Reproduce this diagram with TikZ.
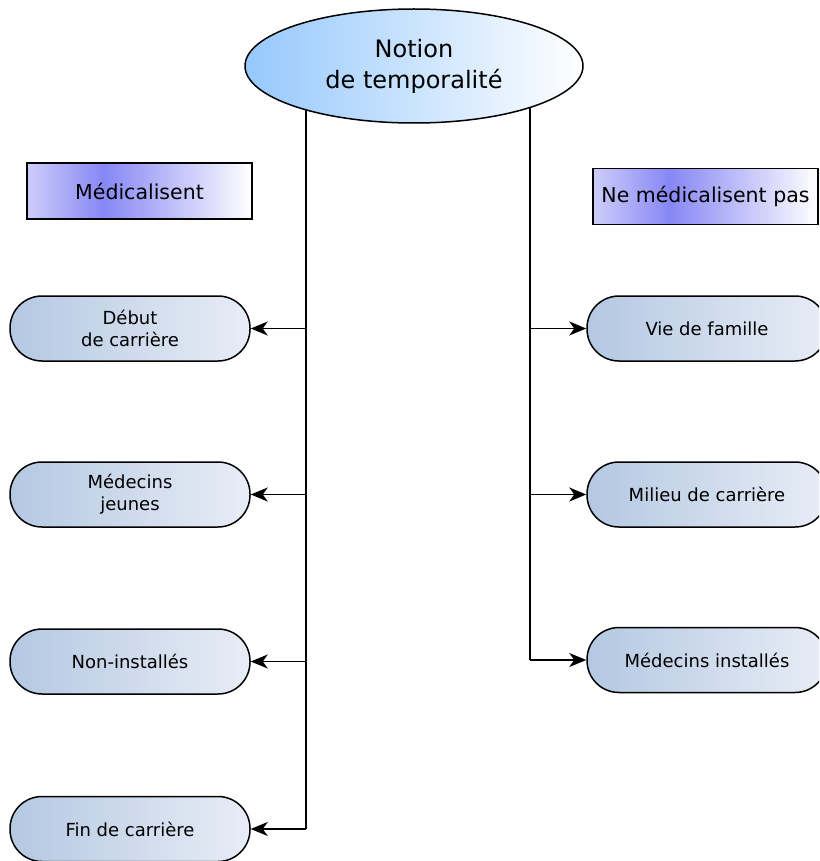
\documentclass[tikz,border=0pt]{standalone}
\usepackage{fontspec}
\setmainfont{DejaVu Sans}
\usepackage{tikz}
\usetikzlibrary{arrows.meta,backgrounds,shapes.geometric}
\definecolor{ellL}{RGB}{150,200,252}
\definecolor{headL}{RGB}{205,205,250}
\definecolor{headM}{RGB}{135,135,245}
\definecolor{grpL}{RGB}{180,200,226}
\definecolor{grpR}{RGB}{232,237,246}
\pgfdeclarehorizontalshading{headshade}{100bp}{color(0bp)=(headL); color(25bp)=(headL); color(42bp)=(headM); color(75bp)=(white); color(100bp)=(white)}
\tikzstyle{theme}=[ellipse,draw,line width=1.5pt,left color=ellL,right color=white,minimum width=338pt,minimum height=114pt,align=center,font=\fontsize{24}{31}\selectfont,inner sep=0pt]
\tikzstyle{head}=[rectangle,draw,line width=1.5pt,shading=headshade,minimum width=225pt,minimum height=56pt,font=\fontsize{20.5}{24}\selectfont]
\tikzstyle{group}=[rectangle,rounded corners=32pt,draw,line width=1.5pt,left color=grpL,right color=grpR,minimum width=240pt,minimum height=65pt,align=center,font=\fontsize{18}{22}\selectfont]
\tikzstyle{link}=[-{Stealth[length=17pt,width=14pt,inset=5pt]},line width=1.5pt]
\tikzstyle{trunk}=[line width=1.5pt]

\begin{document}
\begin{tikzpicture}[x=1pt,y=-1pt]
  \useasboundingbox (0,0) rectangle (819,861);
  \clip (0,0) rectangle (819,861);

  \node[theme] (T) at (414,66) {Notion\\de temporalité};

  \node[head] (M) at (139.5,191) {Médicalisent};
  \node[head] (NM) at (705.5,196.5) {Ne médicalisent pas};

  \node[group] (debut) at (130,328.5) {Début\\de carrière};
  \node[group] (jeunes) at (130,494.5) {Médecins\\jeunes};
  \node[group] (noninst) at (130,661.5) {Non-installés};
  \node[group] (fin) at (130,829) {Fin de carrière};

  \node[group] (famille) at (707,328.5) {Vie de famille};
  \node[group] (milieu) at (707,494.5) {Milieu de carrière};
  \node[group] (inst) at (707,660) {Médecins installés};

  \coordinate (L) at (306,0);
  \coordinate (R) at (530,0);

  \begin{scope}[on background layer]
    \draw[trunk] (L |- T.center) -- (L |- fin.east);
    \draw[trunk] (R |- T.center) -- (R |- inst.west);
  \end{scope}

  \draw[link] (L |- debut.east) -- (debut.east);
  \draw[link] (L |- jeunes.east) -- (jeunes.east);
  \draw[link] (L |- noninst.east) -- (noninst.east);
  \draw[link] (L |- fin.east) -- (fin.east);

  \draw[link] (R |- famille.west) -- (famille.west);
  \draw[link] (R |- milieu.west) -- (milieu.west);
  \draw[link] (R |- inst.west) -- (inst.west);
\end{tikzpicture}
\end{document}
